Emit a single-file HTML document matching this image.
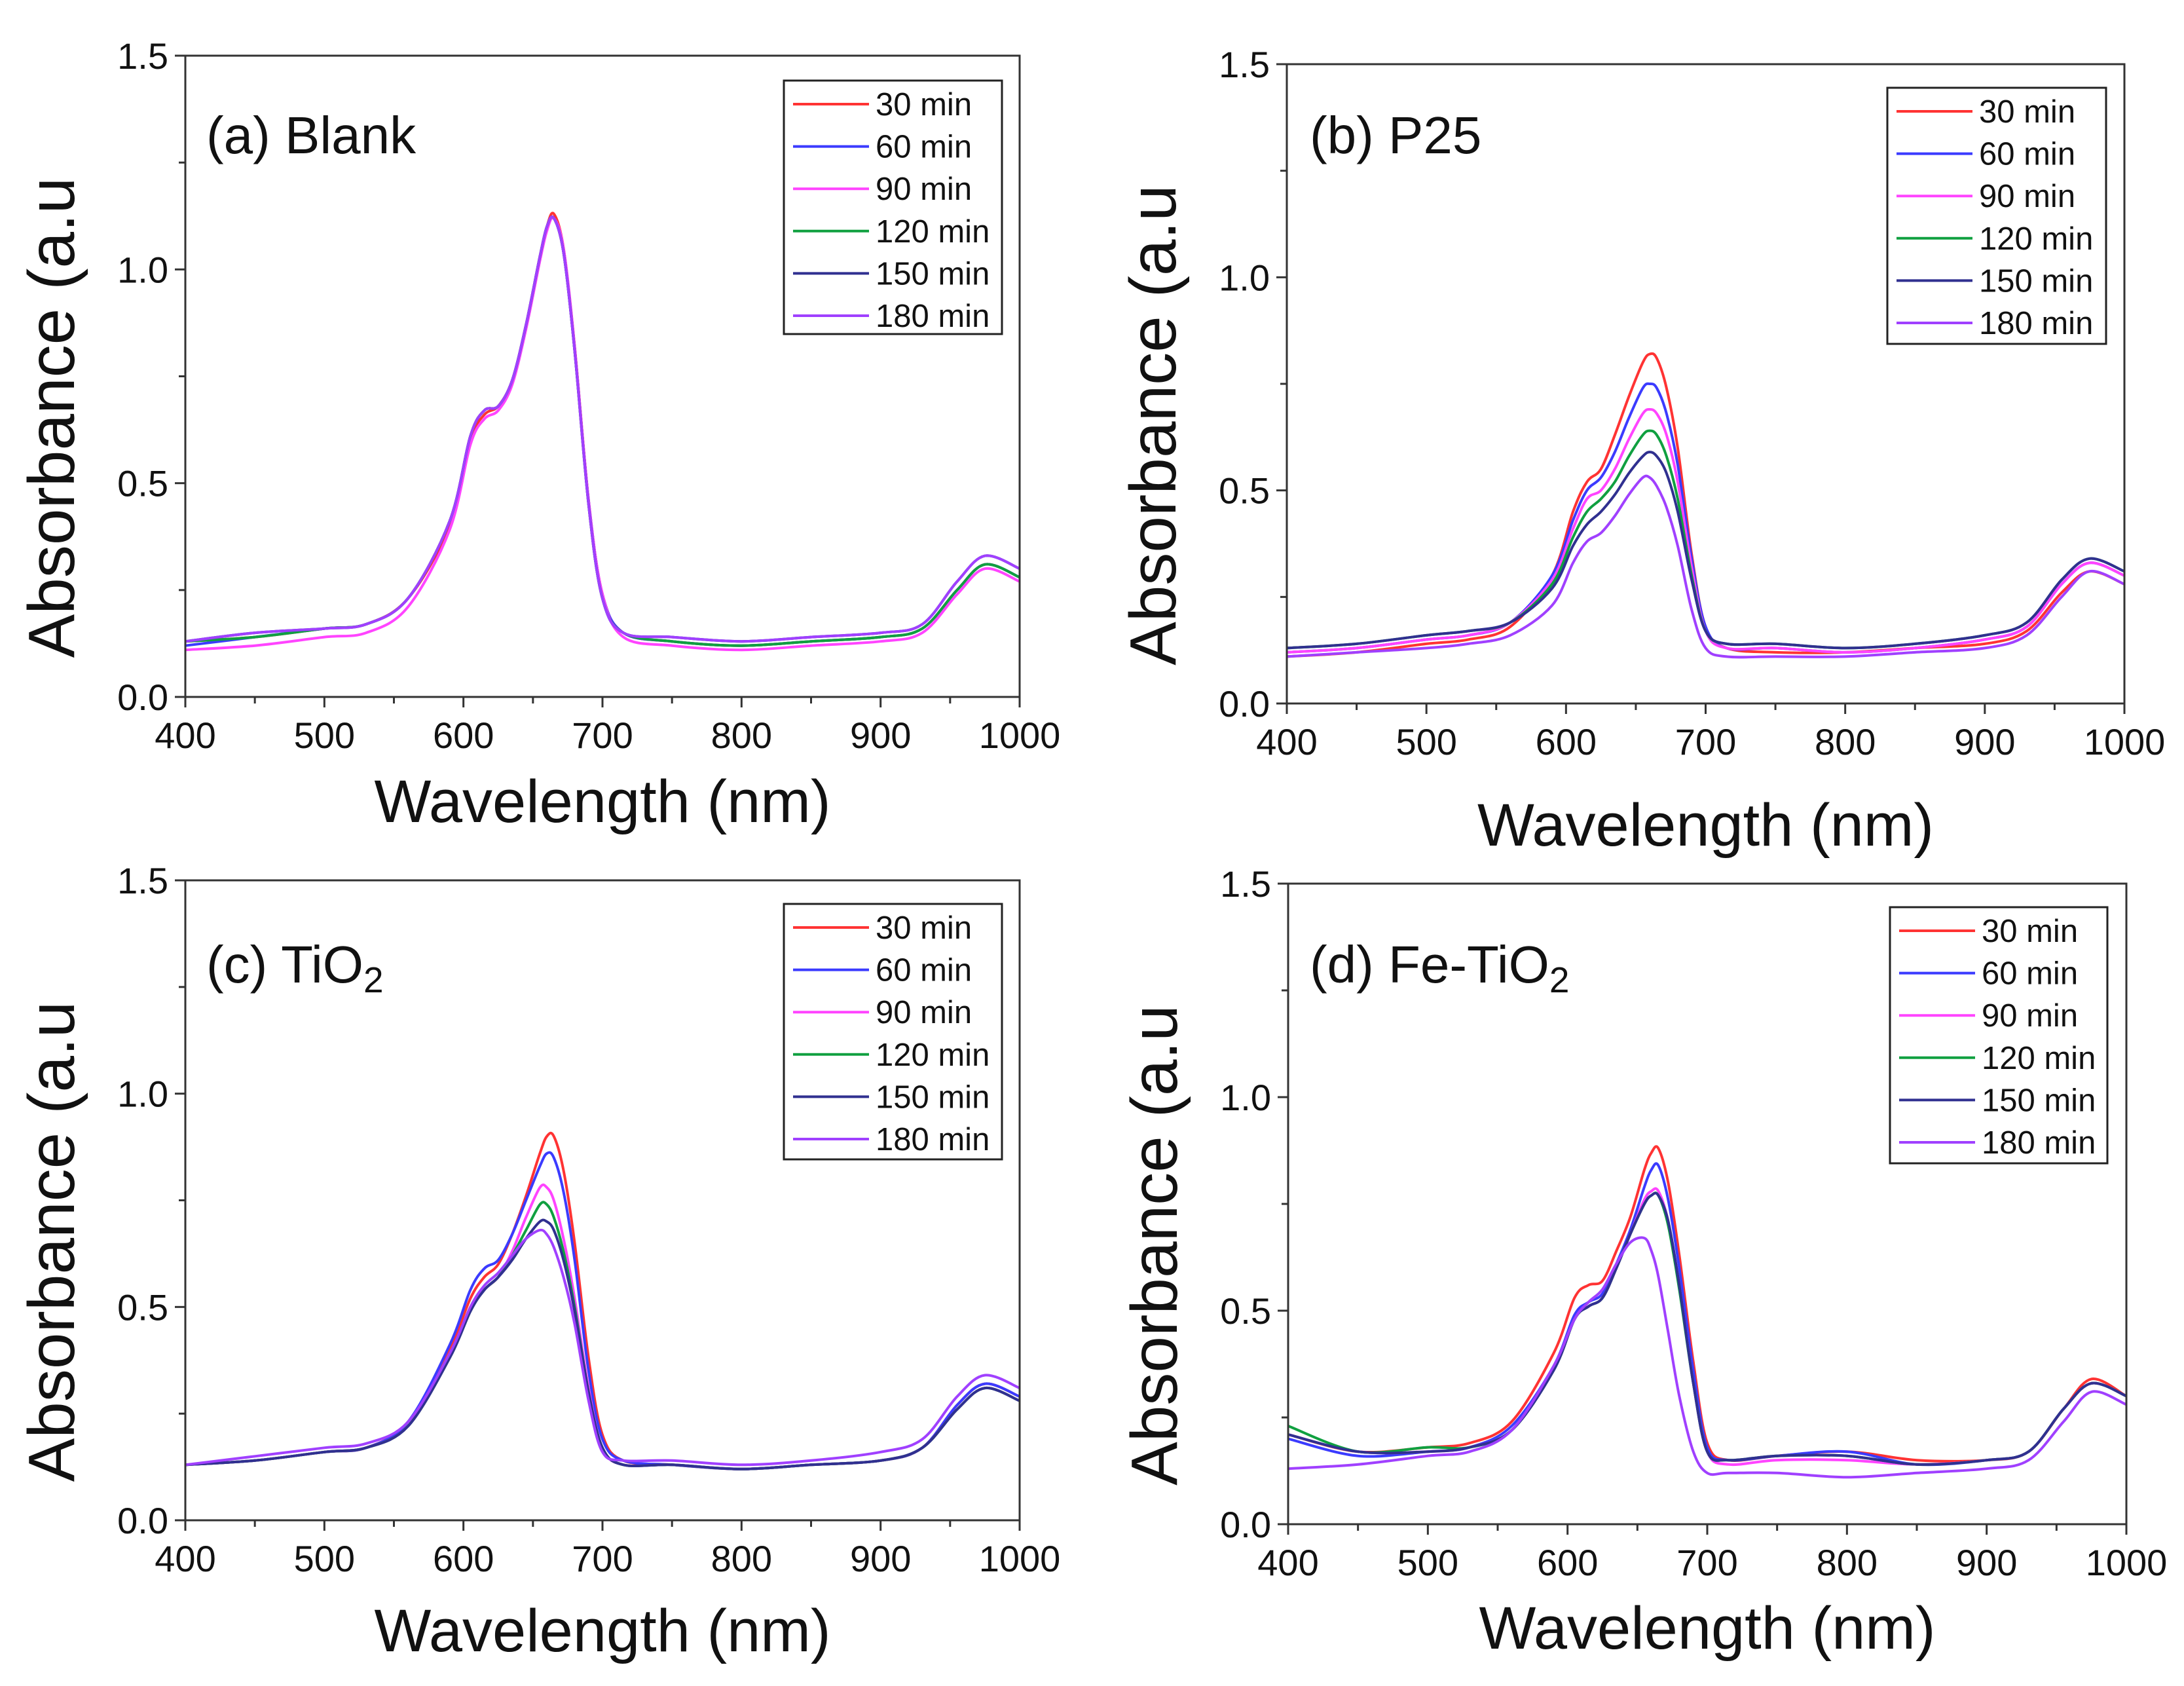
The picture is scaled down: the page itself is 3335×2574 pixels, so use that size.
<!DOCTYPE html>
<html><head><meta charset="utf-8">
<style>
html,body{margin:0;padding:0;background:#fff;}
svg{display:block;font-family:"Liberation Sans",Arial,sans-serif;}
</style></head>
<body>
<svg id="fig" width="3335" height="2574" viewBox="0 0 3335 2574" xmlns="http://www.w3.org/2000/svg"></svg>
<script>
const wavelengths=[400,450,500,530,560,590,605,615,625,635,645,655,660,665,672,680,690,700,715,750,800,850,900,930,955,975,1000];
const seriesLabels=["30 min","60 min","90 min","120 min","150 min","180 min"];
const seriesColors=["#ff3333","#3b3bff","#ff44ff","#10a040","#303090","#a040ff"];
const xTicks=[400,500,600,700,800,900,1000];
const yTicks=[0.0,0.5,1.0,1.5];
const yTickLabels=["0.0","0.5","1.0","1.5"];

const blank30=[.13,.14,.16,.17,.23,.40,.60,.66,.68,.74,.87,1.03,1.10,1.13,1.05,.82,.46,.24,.15,.13,.12,.13,.14,.16,.25,.31,.28];
const blank60=[.12,.14,.16,.17,.23,.41,.61,.67,.68,.74,.87,1.03,1.10,1.12,1.04,.81,.46,.24,.15,.13,.12,.13,.14,.16,.25,.31,.28];
const blank90=[.11,.12,.14,.15,.21,.39,.59,.65,.67,.73,.86,1.02,1.09,1.12,1.05,.82,.46,.24,.14,.12,.11,.12,.13,.15,.24,.30,.27];
const blank120=[.13,.14,.16,.17,.23,.41,.61,.67,.68,.74,.87,1.03,1.10,1.12,1.04,.81,.45,.23,.15,.13,.12,.13,.14,.16,.25,.31,.28];
const blank150=[.13,.15,.16,.17,.23,.41,.61,.67,.68,.74,.87,1.03,1.10,1.12,1.04,.81,.45,.23,.15,.14,.13,.14,.15,.17,.27,.33,.30];
const blank180=[.13,.15,.16,.17,.23,.41,.61,.67,.68,.74,.87,1.03,1.10,1.12,1.04,.81,.45,.23,.15,.14,.13,.14,.15,.17,.27,.33,.30];

const p25_30=[.11,.12,.14,.15,.18,.30,.45,.52,.55,.63,.72,.80,.82,.81,.74,.60,.35,.18,.13,.12,.12,.13,.14,.17,.26,.31,.28];
const p25_60=[.12,.13,.15,.16,.19,.30,.43,.50,.53,.59,.67,.74,.75,.74,.68,.56,.34,.18,.13,.13,.12,.13,.15,.18,.28,.33,.30];
const p25_90=[.12,.13,.15,.16,.19,.29,.41,.48,.50,.55,.62,.68,.69,.68,.63,.52,.32,.17,.13,.13,.12,.13,.15,.18,.28,.33,.30];
const p25_120=[.13,.14,.16,.17,.19,.28,.39,.45,.48,.52,.58,.63,.64,.63,.58,.48,.30,.17,.14,.14,.13,.14,.16,.19,.29,.34,.31];
const p25_150=[.13,.14,.16,.17,.19,.27,.37,.42,.45,.49,.54,.58,.59,.58,.54,.45,.29,.17,.14,.14,.13,.14,.16,.19,.29,.34,.31];
const p25_180=[.11,.12,.13,.14,.16,.23,.33,.38,.40,.44,.49,.53,.53,.51,.46,.37,.22,.13,.11,.11,.11,.12,.13,.16,.25,.31,.28];

const tio2_30=[.13,.14,.16,.17,.23,.40,.52,.57,.60,.67,.76,.86,.90,.90,.82,.65,.38,.20,.14,.13,.12,.13,.14,.17,.27,.32,.29];
const tio2_60=[.13,.14,.16,.17,.23,.41,.54,.59,.61,.67,.75,.83,.86,.85,.77,.61,.35,.19,.14,.13,.12,.13,.14,.17,.27,.32,.29];
const tio2_90=[.13,.14,.16,.17,.22,.38,.49,.54,.57,.63,.71,.78,.78,.75,.66,.52,.31,.17,.13,.13,.12,.13,.14,.17,.26,.31,.28];
const tio2_120=[.13,.14,.16,.17,.22,.38,.49,.54,.57,.62,.68,.74,.74,.71,.63,.50,.30,.17,.13,.13,.12,.13,.14,.17,.26,.31,.28];
const tio2_150=[.13,.14,.16,.17,.22,.38,.49,.54,.57,.61,.66,.70,.70,.68,.61,.49,.30,.17,.13,.13,.12,.13,.14,.17,.26,.31,.28];
const tio2_180=[.13,.15,.17,.18,.23,.39,.50,.55,.58,.62,.66,.68,.67,.64,.57,.46,.28,.16,.14,.14,.13,.14,.16,.19,.29,.34,.31];

const fe30=[.21,.17,.18,.19,.24,.40,.53,.56,.57,.64,.72,.83,.87,.88,.80,.63,.38,.19,.15,.16,.17,.15,.15,.17,.27,.34,.30];
const fe60=[.20,.16,.17,.18,.23,.37,.49,.52,.54,.61,.69,.79,.83,.84,.76,.60,.36,.18,.15,.16,.17,.14,.15,.17,.27,.33,.30];
const fe90=[.21,.17,.17,.18,.22,.36,.48,.51,.53,.60,.68,.76,.78,.78,.71,.56,.33,.17,.14,.15,.15,.14,.15,.17,.27,.33,.30];
const fe120=[.23,.17,.18,.18,.22,.36,.48,.51,.53,.60,.68,.75,.77,.77,.70,.55,.33,.17,.15,.16,.16,.14,.15,.17,.27,.33,.30];
const fe150=[.21,.17,.17,.18,.22,.36,.48,.51,.53,.60,.68,.75,.77,.77,.71,.56,.33,.17,.15,.16,.16,.14,.15,.17,.27,.33,.30];
const fe180=[.13,.14,.16,.17,.22,.37,.48,.52,.55,.61,.66,.67,.64,.58,.45,.30,.17,.12,.12,.12,.11,.12,.13,.15,.24,.31,.28];

const NS="http://www.w3.org/2000/svg";
const svg=document.getElementById('fig');
function mk(tag,attrs,parent){const e=document.createElementNS(NS,tag);for(const k in attrs)e.setAttribute(k,attrs[k]);(parent||svg).appendChild(e);return e;}

const panels=[
 {id:'a',x0:283,x1:1557,y0:85,y1:1064,label:'(a) Blank',sub:'',series:[blank30,blank60,blank90,blank120,blank150,blank180],leg:[1197,123,1530,510],lx:315,ly:234,xl:1223},
 {id:'b',x0:1965,x1:3244,y0:98,y1:1074,label:'(b) P25',sub:'',series:[p25_30,p25_60,p25_90,p25_120,p25_150,p25_180],leg:[2882,134,3216,525],lx:2000,ly:234,xl:1259},
 {id:'c',x0:283,x1:1557,y0:1344,y1:2321,label:'(c) TiO',sub:'2',series:[tio2_30,tio2_60,tio2_90,tio2_120,tio2_150,tio2_180],leg:[1197,1380,1530,1770],lx:315,ly:1500,xl:2489},
 {id:'d',x0:1967,x1:3247,y0:1349,y1:2327,label:'(d) Fe-TiO',sub:'2',series:[fe30,fe60,fe90,fe120,fe150,fe180],leg:[2886,1385,3218,1776],lx:2000,ly:1500,xl:2485}
];

function smoothPath(pts){
 let d='M'+pts[0][0].toFixed(1)+','+pts[0][1].toFixed(1);
 for(let i=0;i<pts.length-1;i++){
  const p0=pts[Math.max(0,i-1)],p1=pts[i],p2=pts[i+1],p3=pts[Math.min(pts.length-1,i+2)];
  const c1x=p1[0]+(p2[0]-p0[0])/6,c1y=p1[1]+(p2[1]-p0[1])/6;
  const c2x=p2[0]-(p3[0]-p1[0])/6,c2y=p2[1]-(p3[1]-p1[1])/6;
  d+=' C'+c1x.toFixed(1)+','+c1y.toFixed(1)+' '+c2x.toFixed(1)+','+c2y.toFixed(1)+' '+p2[0].toFixed(1)+','+p2[1].toFixed(1);
 }
 return d;
}

panels.forEach(p=>{
 const g=mk('g',{});
 
 
 const sx=v=>p.x0+(v-400)/600*(p.x1-p.x0);
 const sy=v=>p.y1-(v/1.5)*(p.y1-p.y0);
 p.series.forEach((s,i)=>{
  const pts=wavelengths.map((w,j)=>[sx(w),sy(s[j])]);
  const path=mk('path',{d:smoothPath(pts),fill:'none',stroke:seriesColors[i],'stroke-width':4,'stroke-linejoin':'round'},g);
  
  
 });
 const fr=mk('rect',{x:p.x0,y:p.y0,width:p.x1-p.x0,height:p.y1-p.y0,fill:'none',stroke:'#333','stroke-width':3},g);
 
 
 for(let v=400;v<=1000;v+=50){
  const major=v%100===0;
  mk('line',{x1:sx(v),x2:sx(v),y1:p.y1,y2:p.y1+(major?16:10),stroke:'#333','stroke-width':3},g);
 }
 xTicks.forEach(v=>{
  const t=mk('text',{x:sx(v),y:p.y1+78,'font-size':56,'text-anchor':'middle',fill:'#111'},g);
  t.textContent=v;
  
  
 });
 for(let v=0;v<=1.5001;v+=0.25){
  const major=Math.abs(v*2-Math.round(v*2))<1e-6;
  mk('line',{x1:p.x0,x2:p.x0-(major?16:10),y1:sy(v),y2:sy(v),stroke:'#333','stroke-width':3},g);
 }
 yTicks.forEach((v,i)=>{
  const t=mk('text',{x:p.x0-26,y:sy(v)+20,'font-size':56,'text-anchor':'end',fill:'#111'},g);
  t.textContent=yTickLabels[i];
  
  
 });
 const xt=mk('text',{x:(p.x0+p.x1)/2,y:p.xl+32,'font-size':92,'text-anchor':'middle',fill:'#111'},g);
 xt.textContent='Wavelength (nm)';
 
 
 const cy=(p.y0+p.y1)/2+63;
 const yt=mk('text',{x:0,y:0,'font-size':100,'text-anchor':'middle',fill:'#111',transform:`translate(${p.x0-170},${cy}) rotate(-90)`},g);
 yt.textContent='Absorbance (a.u';
 
 
 const pl=mk('text',{x:p.lx,y:p.ly,'font-size':80,fill:'#111'},g);
 pl.textContent=p.label;
 if(p.sub){const ts=mk('tspan',{'font-size':55,dy:15},pl);ts.textContent=p.sub;}
 
 
 const [lx0,ly0,lx1,ly1]=p.leg;
 const lg=mk('g',{},g);
 
 
 mk('rect',{x:lx0,y:ly0,width:lx1-lx0,height:ly1-ly0,fill:'#fff',stroke:'#222','stroke-width':3},lg);
 seriesLabels.forEach((lab,i)=>{
  const yy=ly0+36+i*64.6;
  const e=mk('g',{},lg);
  
  
  mk('line',{x1:lx0+14,x2:lx0+130,y1:yy,y2:yy,stroke:seriesColors[i],'stroke-width':4},e);
  const t=mk('text',{x:lx0+140,y:yy+17,'font-size':49,fill:'#111'},e);
  t.textContent=lab;
 });
});
</script>
</body></html>
